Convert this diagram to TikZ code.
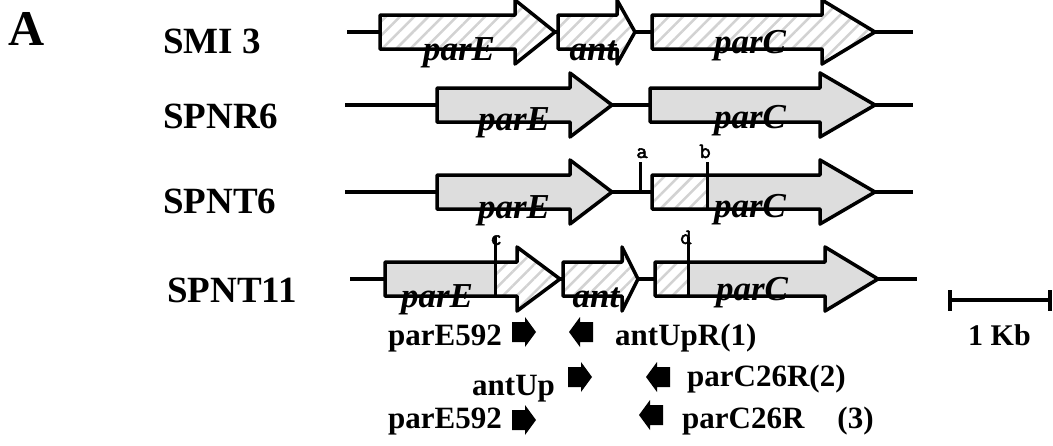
\documentclass[tikz,border=0pt]{standalone}
\usepackage{fontspec}
\setmainfont{Liberation Serif}
\newfontfamily\sitefont{Latin Modern Mono}[AutoFakeBold=2.5]
\usetikzlibrary{patterns.meta}
\definecolor{genegray}{HTML}{DDDDDD}
\definecolor{hatchgray}{HTML}{D2D2D2}
\tikzset{
 outline/.style={draw=black, line width=3.5pt, line join=round},
 dnaline/.style={draw=black, line width=4pt},
 hatched/.style={pattern={Lines[angle=45,distance=10pt,line width=2.5pt]}, pattern color=hatchgray},
 strain/.style={font=\fontsize{37}{40}\selectfont\bfseries, anchor=base west, inner sep=0pt},
 gene/.style={font=\fontsize{35}{40}\selectfont\bfseries\itshape, anchor=base, inner sep=0pt},
 primer/.style={font=\fontsize{31}{36}\selectfont\bfseries, anchor=base west, inner sep=0pt},
 sitetick/.style={draw=black, line width=3pt},
 sitelabel/.style={font=\fontsize{22}{24}\selectfont\sitefont\bfseries, anchor=base, inner sep=0pt},
 primerfill/.style={fill=black},
}
\newcommand{\genepath}[4]{(#1,#4-17) -- (#2,#4-17) -- (#2,#4-32) -- (#3,#4) -- (#2,#4+32) -- (#2,#4+17) -- (#1,#4+17) -- cycle}
\newcommand{\gene}[6]{%
 \fill[genegray] \genepath{#1}{#2}{#3}{#4};
 \begin{scope}\clip \genepath{#1}{#2}{#3}{#4};
 \fill[white] (#5,#4-40) rectangle (#6,#4+40);
 \fill[hatched] (#5,#4-40) rectangle (#6,#4+40);
 \end{scope}
 \draw[outline] \genepath{#1}{#2}{#3}{#4};}
\newcommand{\rprim}[2]{\fill[primerfill] (#1,#2-10) -- (#1+13,#2-10) -- (#1+13,#2-15) -- (#1+24,#2) -- (#1+13,#2+15) -- (#1+13,#2+10) -- (#1,#2+10) -- cycle;}
\newcommand{\lprim}[2]{\fill[primerfill] (#1,#2-10) -- (#1-13,#2-10) -- (#1-13,#2-15) -- (#1-24,#2) -- (#1-13,#2+15) -- (#1-13,#2+10) -- (#1,#2+10) -- cycle;}
\begin{document}
\begin{tikzpicture}[x=1pt,y=-1pt]
\useasboundingbox (0,0) rectangle (1053,445);
% panel letter and strain labels
\node[anchor=base west, inner sep=0pt, font=\fontsize{50}{56}\selectfont\bfseries] (panelA) at (8,45) {A};
\node[strain] (s1) at (163,53) {SMI 3};
\node[strain] (s2) at (163,128) {SPNR6};
\node[strain] (s3) at (163,213) {SPNT6};
\node[strain] (s4) at (167,302) {SPNT11};
% row 1
\draw[dnaline] (347,32) -- (913,32);
\gene{380}{515}{555}{32}{380}{555}
\gene{558}{617}{635}{32}{558}{635}
\gene{652}{822}{875}{32}{652}{875}
% row 2
\draw[dnaline] (345,105) -- (913,105);
\gene{437}{570}{612}{105}{437}{437}
\gene{650}{820}{875}{105}{650}{650}
% row 3
\draw[dnaline] (345,192) -- (913,192);
\gene{437}{570}{612}{192}{437}{437}
\gene{652}{820}{875}{192}{652}{707}
\draw[sitetick] (640,192) -- (640,162);
\draw[sitetick] (707,209) -- (707,162);
\node[sitelabel] (la) at (642,158) {a};
\node[sitelabel] (lb) at (705,158) {b};
% row 4
\draw[dnaline] (350,279) -- (917,279);
\gene{385}{517}{560}{279}{495}{560}
\gene{563}{622}{638}{279}{563}{638}
\gene{655}{825}{878}{279}{655}{688}
\node[sitelabel] (lc) at (496,245) {c};
\node[sitelabel] (ld) at (686,244) {d};
\draw[sitetick] (495,296) -- (495,237);
\draw[sitetick] (688,296) -- (688,237);
% gene labels
\node[gene] (g1a) at (459,60) {parE};
\node[gene] (g1b) at (593,60) {ant};
\node[gene] (g1c) at (750,53) {parC};
\node[gene] (g2a) at (514,130) {parE};
\node[gene] (g2c) at (750,128) {parC};
\node[gene] (g3a) at (514,218) {parE};
\node[gene] (g3c) at (750,217) {parC};
\node[gene] (g4a) at (437,307) {parE};
\node[gene] (g4b) at (596,307) {ant};
\node[gene] (g4c) at (752,300) {parC};
% primers
\rprim{512}{332}
\lprim{593}{332}
\rprim{568}{377}
\lprim{670}{377}
\rprim{512}{420}
\lprim{663}{415}
\node[primer] (p1) at (388,345) {parE592};
\node[primer] (p2) at (615,345) {antUpR(1)};
\node[primer] (p3) at (472,395) {antUp};
\node[primer] (p4) at (687,386) {parC26R(2)};
\node[primer] (p5) at (388,428) {parE592};
\node[primer] (p6) at (682,428) {parC26R\hspace{33pt}(3)};
% scale bar
\draw[line width=3.5pt] (950,300) -- (1050,300);
\draw[line width=3.5pt] (950,290) -- (950,311);
\draw[line width=3.5pt] (1050,290) -- (1050,311);
\node[anchor=base west, inner sep=0pt, font=\fontsize{30}{34}\selectfont\bfseries] (kb) at (968,345) {1 Kb};
\end{tikzpicture}
\end{document}
